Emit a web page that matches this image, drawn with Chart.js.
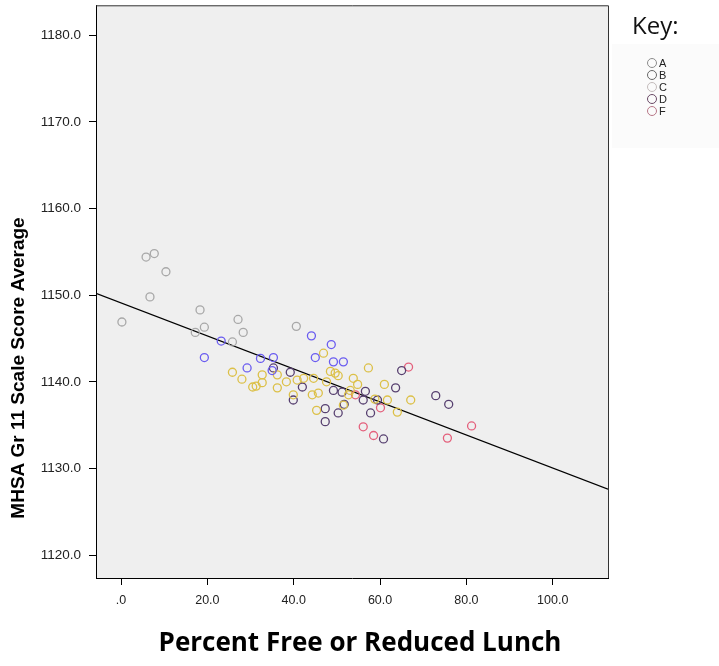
<!DOCTYPE html>
<html lang="en">
<head>
<meta charset="UTF-8">
<title>MHSA Gr 11 vs Free/Reduced Lunch</title>
<script src="https://cdn.jsdelivr.net/npm/chart.js"></script>
<style>
  body { margin: 0; background: #fff; }
  #wrap { position: relative; width: 719px; height: 666px; }
  #key { position: absolute; left: 632px; top: 8px; font-family: "Open Sans", "Lato", sans-serif; font-size: 24px; color: #111; }
  #keyBox { position: absolute; left: 612px; top: 44px; width: 107px; height: 104px; background: #fbfbfb; }
  .item { position: absolute; left: 35px; font-family: "Liberation Sans", Arial, sans-serif; font-size: 11px; color: #222; line-height: 12px; }
  .item span { display: inline-block; width: 8px; height: 8px; border: 1.2px solid; border-radius: 50%; margin-right: 2px; vertical-align: -1px; }
</style>
</head>
<body>
<div id="wrap">
  <canvas id="grafico" width="719" height="666"></canvas>
  <div id="key">Key:</div>
  <div id="keyBox"></div>
</div>
<script>
// grades (key)
const grades = ["A", "B", "C", "D", "F"];
const colores = ["#a8a8a8", "#6a5cf0", "#dcc048", "#574070", "#e4607c"];
const keyColores = ["#8c8c8c", "#686868", "#c4bcbc", "#6a4a66", "#b87888"];

// percent free/reduced lunch (x) and scale score average (y)
const xA = [5.8, 7.7, 10.4, 6.7, 18.3, 0.2, 19.3, 17.2, 27.1, 28.3, 40.6, 25.8];
const yA = [1154.4, 1154.8, 1152.7, 1149.8, 1148.3, 1146.9, 1146.3, 1145.7, 1147.2, 1145.7, 1146.4, 1144.6];

const xB = [23.2, 19.3, 44.1, 48.7, 35.3, 45.0, 49.2, 51.5, 29.2, 32.3, 35.0];
const yB = [1144.7, 1142.8, 1145.3, 1144.3, 1142.8, 1142.8, 1142.3, 1142.3, 1141.6, 1142.7, 1141.3];

const xC = [25.8, 32.7, 32.7, 36.2, 36.2, 39.9, 46.9, 42.3, 53.8, 53.1, 48.5, 57.3, 61.7, 67.1, 64.0, 51.5, 49.6, 45.7, 45.3, 40.8, 44.6, 30.5, 58.8,
            31.3, 38.3, 47.6, 50.3, 54.8, 61.0, 44.3, 52.7, 28.0];
const yC = [1141.1, 1140.8, 1139.9, 1139.3, 1140.8, 1138.5, 1143.3, 1140.4, 1140.4, 1139.0, 1141.2, 1141.6, 1137.9, 1137.9, 1136.5, 1137.3, 1141.0, 1138.7, 1136.7, 1140.2, 1140.4, 1139.4, 1138.0,
            1139.5, 1140.0, 1140.0, 1140.7, 1139.7, 1139.7, 1138.5, 1138.5, 1140.3];

const xD = [65.0, 63.6, 72.9, 75.9, 56.6, 56.1, 59.4, 57.8, 50.3, 51.7, 60.8, 49.2, 39.2, 42.0, 39.9, 47.3, 47.3, 35.3, 51.2];
const yD = [1141.3, 1139.3, 1138.4, 1137.4, 1138.9, 1137.9, 1137.9, 1136.4, 1136.4, 1137.4, 1133.4, 1139.0, 1141.1, 1139.4, 1137.9, 1136.9, 1135.4, 1141.6, 1138.8];

const xF = [66.6, 60.1, 56.1, 58.5, 81.2, 75.6, 54.3];
const yF = [1141.7, 1137.0, 1134.8, 1133.8, 1134.9, 1133.5, 1138.5];

// fit line
const fitX = [-5.8, 112.8];
const fitY = [1150.2, 1127.6];

const xTicks = [0, 20, 40, 60, 80, 100];
const yTicks = [1120, 1130, 1140, 1150, 1160, 1170, 1180];

const serieX = [xA, xB, xC, xD, xF];
const serieY = [yA, yB, yC, yD, yF];

const datasets = grades.map((g, i) => ({
    label: g,
    data: serieX[i].map((x, j) => ({ x: x, y: serieY[i][j] })),
    borderColor: colores[i],
    backgroundColor: 'rgba(0,0,0,0)',
    pointRadius: 4,
    pointBorderWidth: 1.3,
    pointHoverRadius: 4
}));

datasets.push({
    type: 'line',
    label: 'fit',
    data: fitX.map((x, j) => ({ x: x, y: fitY[j] })),
    borderColor: '#000',
    borderWidth: 1.2,
    pointRadius: 0,
    fill: false
});

// legend in the key box
const box = document.getElementById('keyBox');
grades.forEach((g, i) => {
    const d = document.createElement('div');
    d.className = 'item';
    d.style.top = (13 + i * 12) + 'px';
    d.innerHTML = '<span style="border-color:' + keyColores[i] + '"></span>' + g;
    box.appendChild(d);
});

const fondo = {
    id: 'fondo',
    beforeDraw(chart) {
        const { ctx, chartArea: a } = chart;
        ctx.save();
        ctx.fillStyle = '#efefef';
        ctx.fillRect(a.left, a.top, a.right - a.left, a.bottom - a.top);
        ctx.restore();
    },
    afterDraw(chart) {
        const { ctx, chartArea: a } = chart;
        ctx.save();
        ctx.strokeStyle = '#333';
        ctx.lineWidth = 1;
        ctx.beginPath();
        ctx.moveTo(a.left, a.top + 0.5);
        ctx.lineTo(a.right + 0.5, a.top + 0.5);
        ctx.lineTo(a.right + 0.5, a.bottom);
        ctx.stroke();
        // axis titles
        ctx.fillStyle = '#000';
        ctx.font = 'bold 19px "Liberation Sans", Arial, sans-serif';
        ctx.textAlign = 'center';
        ctx.textBaseline = 'middle';
        ctx.translate(19, 368);
        ctx.rotate(-Math.PI / 2);
        ctx.fillText('MHSA Gr 11 Scale Score Average', 0, 0);
        ctx.restore();
        ctx.save();
        ctx.fillStyle = '#000';
        ctx.font = 'bold 26px "Open Sans", "Lato", sans-serif';
        ctx.textAlign = 'center';
        ctx.textBaseline = 'middle';
        ctx.fillText('Percent Free or Reduced Lunch', 360, 644);
        ctx.restore();
    }
};

const ctx = document.getElementById('grafico').getContext('2d');
new Chart(ctx, {
    type: 'scatter',
    data: { datasets: datasets },
    options: {
        responsive: false,
        animation: false,
        layout: { padding: { top: 5, right: 111, bottom: 0, left: 0 } },
        plugins: { legend: { display: false }, tooltip: { enabled: false } },
        scales: {
            x: {
                type: 'linear',
                min: -5.8,
                max: 112.8,
                afterBuildTicks: (axis) => { axis.ticks = xTicks.map(v => ({ value: v })); },
                afterFit: (axis) => { axis.height = 88; axis.paddingLeft = 0; axis.paddingRight = 0; },
                ticks: {
                    padding: 8,
                    color: '#222',
                    font: { family: '"Liberation Sans", Arial, sans-serif', size: 12.5 },
                    callback: (v) => v === 0 ? '.0' : v.toFixed(1)
                },
                grid: { drawOnChartArea: false, drawTicks: true, tickLength: 7, color: '#000' },
                border: { color: '#000', width: 1 }
            },
            y: {
                type: 'linear',
                min: 1117.35,
                max: 1183.46,
                afterBuildTicks: (axis) => { axis.ticks = yTicks.map(v => ({ value: v })); },
                afterFit: (axis) => { axis.width = 96; axis.paddingTop = 0; axis.paddingBottom = 0; },
                ticks: {
                    padding: 8,
                    color: '#222',
                    font: { family: '"Liberation Sans", Arial, sans-serif', size: 13.5 },
                    callback: (v) => v.toFixed(1)
                },
                grid: { drawOnChartArea: false, drawTicks: true, tickLength: 7, color: '#000' },
                border: { color: '#000', width: 1 }
            }
        }
    },
    plugins: [fondo]
});
</script>
</body>
</html>
